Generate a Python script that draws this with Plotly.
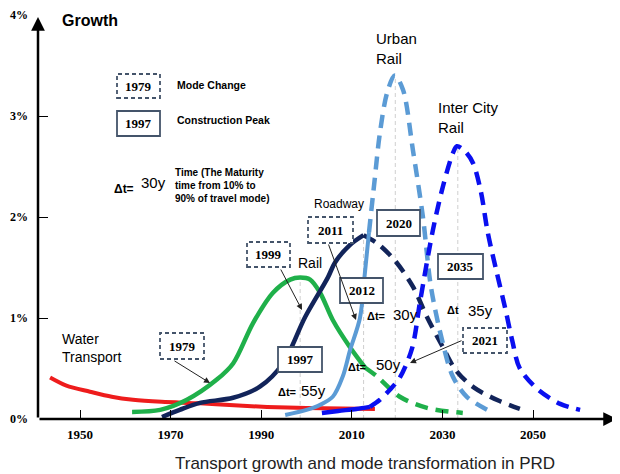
import plotly.graph_objects as go

# ---------------- data ----------------
water_years = [1943.4, 1947, 1952.2, 1957, 1961.7, 1968, 1976.5, 1984, 1991.3, 2000, 2008, 2015.1]
water_vals = [0.41, 0.33, 0.27, 0.22, 0.19, 0.17, 0.155, 0.135, 0.12, 0.11, 0.105, 0.10]

rail_years = [1961.5, 1967.7, 1973.6, 1980.2, 1983.8, 1988.2, 1992.6, 1996.4, 1998.6, 2000.8, 2003.0, 2005.8, 2009.6, 2012.9]
rail_vals = [0.07, 0.09, 0.19, 0.39, 0.55, 0.95, 1.25, 1.38, 1.40, 1.38, 1.25, 0.98, 0.71, 0.51]
rail_fc_years = [2012.9, 2015.6, 2020.6, 2026.6, 2034.5]
rail_fc_vals = [0.51, 0.42, 0.22, 0.11, 0.06]

road_years = [1968.1, 1972, 1976.5, 1983.8, 1989.7, 1994.8, 1999.7, 2004.7, 2006.3, 2009.5, 2012.6]
road_vals = [0.02, 0.09, 0.16, 0.21, 0.32, 0.55, 1.01, 1.40, 1.55, 1.72, 1.82]
road_fc_years = [2012.6, 2015.6, 2019.5, 2023.5, 2026.6, 2030, 2033, 2037, 2042.5, 2047.1]
road_fc_vals = [1.82, 1.74, 1.57, 1.31, 1.01, 0.72, 0.48, 0.31, 0.18, 0.10]

urban_years = [1995.3, 2000, 2003, 2005.8, 2008, 2009.6, 2011.8, 2012.9, 2013.8]
urban_vals = [0.04, 0.09, 0.14, 0.22, 0.42, 0.68, 1.0, 1.45, 1.85]
urban_fc_years = [2013.8, 2015, 2016.2, 2017.8, 2019.5, 2021.3, 2023.5, 2025.7, 2027.5, 2030.1, 2032.3, 2035.4, 2040.8]
urban_fc_vals = [1.85, 2.35, 2.83, 3.23, 3.40, 3.26, 2.66, 2.00, 1.30, 0.75, 0.42, 0.22, 0.07]

inter_years = [2003.4, 2007, 2011, 2014.0]
inter_vals = [0.06, 0.08, 0.10, 0.12]
inter_fc_years = [2014.0, 2016.2, 2018.4, 2020.6, 2023.3, 2025.1, 2027.9, 2030.1, 2032.3, 2033.2, 2035,
                  2036.8, 2038.5, 2040, 2042, 2043.8, 2045.4, 2047.1, 2050.9, 2056, 2060.4]
inter_fc_vals = [0.12, 0.19, 0.29, 0.41, 0.70, 1.17, 1.87, 2.30, 2.63, 2.70, 2.65,
                 2.53, 2.25, 1.85, 1.45, 1.11, 0.78, 0.50, 0.30, 0.15, 0.09]

peak_years = [1998.6, 2012.6, 2019.6, 2033.4]
peak_vals = [1.40, 1.82, 3.40, 2.70]

x_tick_vals = [1950, 1970, 1990, 2010, 2030, 2050]
x_tick_text = ["1950", "1970", "1990", "2010", "2030", "2050"]
y_tick_vals = [0, 1, 2, 3, 4]
y_tick_text = ["0%", "1%", "2%", "3%", "4%"]

# ---------------- layout helpers ----------------
# the page adds an 8px body margin, so the figure is drawn 8px smaller/offset
OFF = 8
W, H = 620 - OFF, 474 - OFF
# plot-area edges in page pixels
L, R, T, B = 38, 618, 14, 419


def X(px):
    return 1950 + (px - 80) / 4.53


def Y(py):
    return (419 - py) / 101.0


RED = "#ee1c1c"
GREEN = "#1fb04a"
NAVY = "#12245a"
LBLUE = "#5b9bd5"
BLUE = "#0a0ff0"
BOX = "#44546a"
SANS = "Liberation Sans, Arial, sans-serif"
SERIF = "Liberation Serif, Times New Roman, serif"

fig = go.Figure()

for yr, v in zip(peak_years, peak_vals):
    fig.add_trace(go.Scatter(x=[yr, yr], y=[0, v], mode="lines",
                             line=dict(color="#cfcfcf", width=1, dash="4px,3px"),
                             hoverinfo="skip", showlegend=False))

sm = 0.9
DASH = "13px,8px"
fig.add_trace(go.Scatter(x=water_years, y=water_vals, mode="lines",
                         line=dict(color=RED, width=4, shape="spline", smoothing=sm), showlegend=False))
fig.add_trace(go.Scatter(x=rail_years, y=rail_vals, mode="lines",
                         line=dict(color=GREEN, width=4.5, shape="spline", smoothing=sm), showlegend=False))
fig.add_trace(go.Scatter(x=rail_fc_years, y=rail_fc_vals, mode="lines",
                         line=dict(color=GREEN, width=4.5, shape="spline", smoothing=sm, dash=DASH),
                         showlegend=False))
fig.add_trace(go.Scatter(x=road_years, y=road_vals, mode="lines",
                         line=dict(color=NAVY, width=4.5, shape="spline", smoothing=sm), showlegend=False))
fig.add_trace(go.Scatter(x=road_fc_years, y=road_fc_vals, mode="lines",
                         line=dict(color=NAVY, width=4.5, shape="spline", smoothing=sm, dash=DASH),
                         showlegend=False))
fig.add_trace(go.Scatter(x=urban_years, y=urban_vals, mode="lines",
                         line=dict(color=LBLUE, width=4, shape="spline", smoothing=sm), showlegend=False))
fig.add_trace(go.Scatter(x=urban_fc_years, y=urban_fc_vals, mode="lines",
                         line=dict(color=LBLUE, width=4.5, shape="spline", smoothing=sm, dash=DASH),
                         showlegend=False))
fig.add_trace(go.Scatter(x=inter_years, y=inter_vals, mode="lines",
                         line=dict(color=BLUE, width=4.5, shape="spline", smoothing=sm), showlegend=False))
fig.add_trace(go.Scatter(x=inter_fc_years, y=inter_fc_vals, mode="lines",
                         line=dict(color=BLUE, width=4.5, shape="spline", smoothing=sm, dash=DASH),
                         showlegend=False))

shapes = []
annotations = []

# axis arrows
annotations.append(dict(x=X(L), y=Y(17), ax=X(L), ay=Y(B), xref="x", yref="y", axref="x", ayref="y",
                        text="", showarrow=True, arrowhead=2, arrowsize=1.1, arrowwidth=2.5,
                        arrowcolor="black", standoff=0))
annotations.append(dict(x=X(617), y=Y(B), ax=X(L), ay=Y(B), xref="x", yref="y", axref="x", ayref="y",
                        text="", showarrow=True, arrowhead=2, arrowsize=1.1, arrowwidth=2.5,
                        arrowcolor="black", standoff=0))

boxes = [
    ("1979", 117, 74, 160, 98, True),
    ("1997", 117, 111, 160, 136, False),
    ("1999", 247, 242, 290, 267, True),
    ("2011", 308, 217, 353, 243, True),
    ("2020", 377, 210, 420, 236, False),
    ("2012", 340, 278, 383, 303, False),
    ("1997", 278, 347, 322, 372, False),
    ("1979", 160, 333, 204, 359, True),
    ("2035", 438, 254, 483, 279, False),
    ("2021", 463, 328, 507, 353, True),
]
for lbl, x0, y0, x1, y1, dashed in boxes:
    shapes.append(dict(type="rect", xref="x", yref="y", x0=X(x0), x1=X(x1), y0=Y(y1), y1=Y(y0),
                       line=dict(color=BOX, width=1.8, dash="4px,3px" if dashed else "solid"),
                       fillcolor="white", layer="above"))
    annotations.append(dict(x=X((x0 + x1) / 2), y=Y((y0 + y1) / 2), xref="x", yref="y", text="<b>%s</b>" % lbl,
                            showarrow=False, font=dict(family=SERIF, size=13, color="black")))

arrows = [((280, 268), (302, 310)), ((328, 243), (356, 320)), ((173, 360), (210, 383)), ((463, 340), (410, 363))]
for (tx, ty), (hx, hy) in arrows:
    annotations.append(dict(x=X(hx), y=Y(hy), ax=X(tx), ay=Y(ty), xref="x", yref="y", axref="x", ayref="y",
                            text="", showarrow=True, arrowhead=2, arrowsize=1.2, arrowwidth=1,
                            arrowcolor="#222", standoff=0))


def txt(s, px, py, size, bold=False, anchor="center", family=SANS, color="black"):
    annotations.append(dict(x=X(px), y=Y(py), xref="x", yref="y", text=("<b>%s</b>" % s) if bold else s,
                            showarrow=False, xanchor=anchor, yanchor="middle", align="left",
                            font=dict(family=family, size=size, color=color)))


txt("Growth", 90, 20, 16, bold=True)
txt("Mode Change", 175, 85, 10.5, bold=True, anchor="left")
txt("Construction Peak", 175, 120, 10.5, bold=True, anchor="left")
txt("Δt=", 124, 189, 12, bold=True)
txt("30y", 153, 182, 15)
txt("Time (The Maturity<br>time from 10% to<br>90% of travel mode)", 173, 185, 10, bold=True, anchor="left")
txt("Urban<br>Rail", 374, 48, 15, anchor="left")
txt("Inter City<br>Rail", 436, 117, 15, anchor="left")
txt("Roadway", 312, 204, 12, anchor="left")
txt("Rail", 296, 263, 14, anchor="left")
txt("Water<br>Transport", 60, 348, 14, anchor="left")
txt("Δt=", 287, 392, 11, bold=True)
txt("55y", 299, 390, 15, anchor="left")
txt("Δt=", 376, 316, 11, bold=True)
txt("30y", 391, 314, 15, anchor="left")
txt("Δt", 453, 310, 11, bold=True)
txt("35y", 466, 310, 15, anchor="left")
txt("Δt=", 357, 367, 11, bold=True)
txt("50y", 374, 364, 15, anchor="left")

annotations.append(dict(x=(365 - L) / (R - L), y=(B - 463) / (B - T), xref="paper", yref="paper",
                        xanchor="center", yanchor="middle",
                        text="Transport growth and mode transformation in PRD", showarrow=False,
                        font=dict(family=SANS, size=17, color="#222")))

fig.update_layout(
    width=W, height=H,
    margin=dict(l=L - OFF, r=W - (R - OFF), t=T - OFF, b=H - (B - OFF), pad=0, autoexpand=False),
    paper_bgcolor="white", plot_bgcolor="white",
    showlegend=False,
    shapes=shapes, annotations=annotations,
    xaxis=dict(range=[X(L), X(R)], showgrid=False, zeroline=False, showline=False, automargin=False,
               tickmode="array", tickvals=x_tick_vals, ticktext=x_tick_text,
               ticks="inside", ticklen=9, tickwidth=1.3, tickcolor="black",
               tickfont=dict(family=SERIF, size=13, color="black", weight="bold"),
               ticklabelstandoff=6),
    yaxis=dict(range=[0, Y(T)], showgrid=False, zeroline=False, showline=False, automargin=False,
               tickmode="array", tickvals=y_tick_vals, ticktext=y_tick_text,
               ticks="inside", ticklen=10, tickwidth=1.3, tickcolor="black",
               tickfont=dict(family=SERIF, size=12, color="black", weight="bold"),
               ticklabelstandoff=9),
)

fig.write_html("out.html")
